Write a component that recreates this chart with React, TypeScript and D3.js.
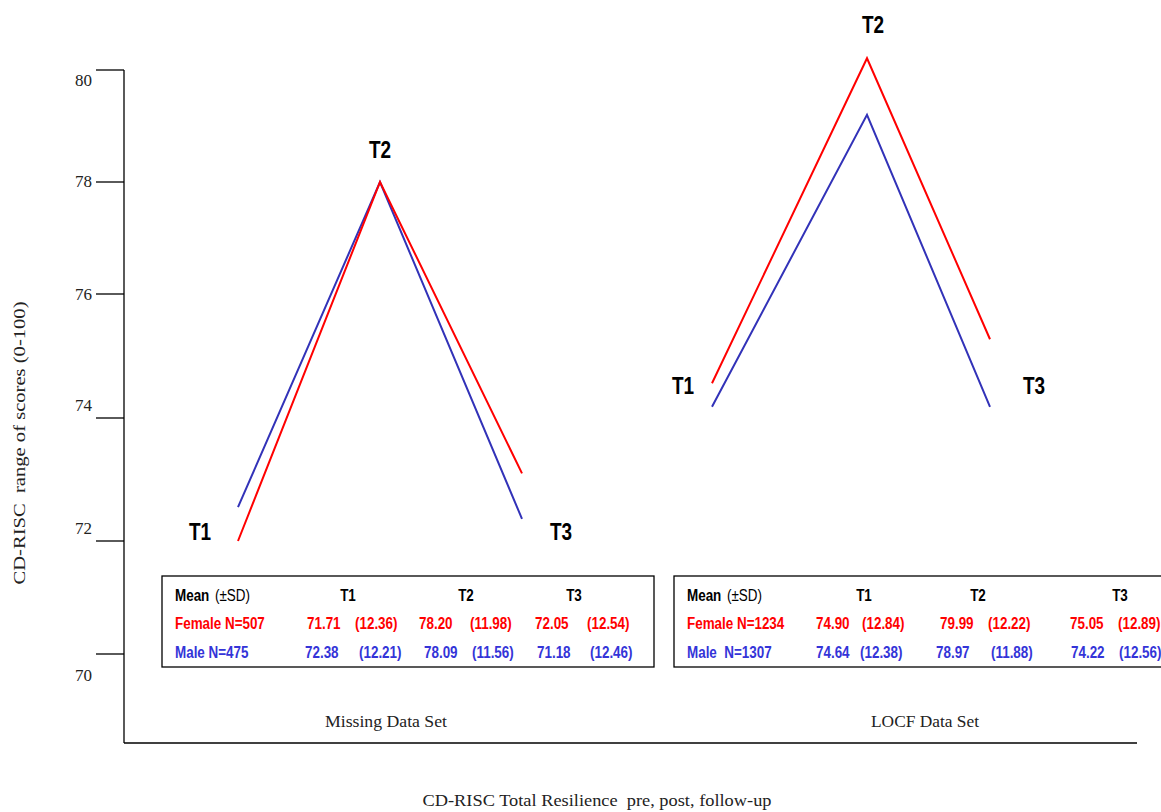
import React from "react";
import * as d3 from "d3";

const times = ["T1", "T2", "T3"];
const yTicks = [70, 72, 74, 76, 78, 80];
const missingFemale = [72.0, 78.0, 73.1];
const missingMale = [72.55, 78.0, 72.36];
const locfFemale = [74.56, 80.21, 75.27];
const locfMale = [74.18, 79.2, 74.18];
// table values
const missingFemaleMean = ["71.71", "78.20", "72.05"];
const missingFemaleSD = ["(12.36)", "(11.98)", "(12.54)"];
const missingMaleMean = ["72.38", "78.09", "71.18"];
const missingMaleSD = ["(12.21)", "(11.56)", "(12.46)"];
const locfFemaleMean = ["74.90", "79.99", "75.05"];
const locfFemaleSD = ["(12.84)", "(12.22)", "(12.89)"];
const locfMaleMean = ["74.64", "78.97", "74.22"];
const locfMaleSD = ["(12.38)", "(11.88)", "(12.56)"];
const missingFemaleLabel = "Female N=507";
const missingMaleLabel = "Male N=475";
const locfFemaleLabel = "Female N=1234";
const locfMaleLabel = "Male  N=1307";

const RED = "#ff0000";
const BLUE_LINE = "#3232b8";
const BLUE_TEXT = "#3434d8";
const SERIF = "'Liberation Serif', 'Times New Roman', serif";
const SANS = "'Liberation Sans', Arial, sans-serif";
const NARROW_K = 0.79;

const y = d3.scaleLinear().domain(yTicks).range([654, 541, 418, 294, 182, 70]);
const tickLabelDy = [23, -11, -11, 2, 1, 12];

const xMissing = d3.scaleOrdinal<string, number>().domain(times).range([238, 380, 522]);
const xLocf = d3.scaleOrdinal<string, number>().domain(times).range([712, 867, 990]);

function linePath(xs: (t: string) => number, vals: number[]) {
  const gen = d3
    .line<number>()
    .x((_, i) => xs(times[i]))
    .y((v) => y(v));
  return gen(vals) || "";
}

function NText(props: {
  x: number;
  y: number;
  fill: string;
  children: React.ReactNode;
  anchor?: string;
  weight?: string;
  size?: number;
}) {
  return (
    <text
      transform={`translate(${props.x},${props.y}) scale(${NARROW_K},1)`}
      fill={props.fill}
      textAnchor={props.anchor || "start"}
      fontWeight={props.weight || "bold"}
      fontSize={props.size || 17}
      fontFamily={SANS}
      style={{ whiteSpace: "pre" }}
    >
      {props.children}
    </text>
  );
}

type TableProps = {
  box: [number, number, number, number];
  headerX: number[];
  meanX: number[];
  sdX: number[];
  maleMeanX: number[];
  maleSdX: number[];
  femaleLabel: string;
  maleLabel: string;
  fMean: string[];
  fSD: string[];
  mMean: string[];
  mSD: string[];
  pmX: number;
};

function Table(p: TableProps) {
  const [bx, by, bw, bh] = p.box;
  const left = bx + 13;
  const rows = [by + 25, by + 53, by + 82];
  return (
    <g>
      <rect x={bx} y={by} width={bw} height={bh} fill="white" stroke="black" strokeWidth={1.3} />
      <NText x={left} y={rows[0]} fill="black">Mean</NText>
      <NText x={p.pmX} y={rows[0]} fill="black" weight="normal">(±SD)</NText>
      {times.map((t, i) => (
        <NText key={t} x={p.headerX[i]} y={rows[0]} anchor="middle" fill="black">{t}</NText>
      ))}
      <NText x={left} y={rows[1]} fill={RED}>{p.femaleLabel}</NText>
      {p.fMean.map((v, i) => (
        <NText key={"fm" + i} x={p.meanX[i]} y={rows[1]} fill={RED}>{v}</NText>
      ))}
      {p.fSD.map((v, i) => (
        <NText key={"fs" + i} x={p.sdX[i]} y={rows[1]} fill={RED}>{v}</NText>
      ))}
      <NText x={left} y={rows[2]} fill={BLUE_TEXT}>{p.maleLabel}</NText>
      {p.mMean.map((v, i) => (
        <NText key={"mm" + i} x={p.maleMeanX[i]} y={rows[2]} fill={BLUE_TEXT}>{v}</NText>
      ))}
      {p.mSD.map((v, i) => (
        <NText key={"ms" + i} x={p.maleSdX[i]} y={rows[2]} fill={BLUE_TEXT}>{v}</NText>
      ))}
    </g>
  );
}

export default function App() {
  const axisX = 124;
  const axisBottom = 743;
  return (
    <svg
      width={1161}
      height={812}
      style={{ position: "absolute", left: 0, top: 0, background: "white" }}
    >
      <rect x={0} y={0} width={1161} height={812} fill="white" />
      {/* y axis */}
      <line x1={axisX} x2={axisX} y1={y(80)} y2={axisBottom} stroke="black" strokeWidth={1.3} />
      <line x1={axisX} x2={1137} y1={axisBottom} y2={axisBottom} stroke="black" strokeWidth={1.3} />
      {yTicks.map((t, i) => (
        <g key={t}>
          <line x1={96} x2={axisX} y1={y(t)} y2={y(t)} stroke="black" strokeWidth={1.3} />
          <text
            x={92}
            y={y(t) + tickLabelDy[i]}
            textAnchor="end"
            dominantBaseline="middle"
            fontFamily={SERIF}
            fontSize={17}
            fill="#222"
          >
            {t}
          </text>
        </g>
      ))}
      <text
        transform="translate(25,443) rotate(-90)"
        textAnchor="middle"
        fontFamily={SERIF}
        fontSize={17}
        fill="#222"
        textLength={283}
        lengthAdjust="spacingAndGlyphs"
        style={{ whiteSpace: "pre" }}
      >
        CD-RISC  range of scores (0-100)
      </text>

      {/* Missing data set lines */}
      <path d={linePath(xMissing, missingMale)} fill="none" stroke={BLUE_LINE} strokeWidth={2} />
      <path d={linePath(xMissing, missingFemale)} fill="none" stroke={RED} strokeWidth={2} />
      {/* LOCF lines */}
      <path d={linePath(xLocf, locfFemale)} fill="none" stroke={RED} strokeWidth={2} />
      <path d={linePath(xLocf, locfMale)} fill="none" stroke={BLUE_LINE} strokeWidth={2} />

      {/* time labels */}
      <NText x={xMissing("T1") - 38} y={540} fill="black" anchor="middle" size={24}>T1</NText>
      <NText x={xMissing("T2")} y={158} fill="black" anchor="middle" size={24}>T2</NText>
      <NText x={xMissing("T3") + 39} y={540} fill="black" anchor="middle" size={24}>T3</NText>
      <NText x={xLocf("T1") - 29} y={394} fill="black" anchor="middle" size={24}>T1</NText>
      <NText x={xLocf("T2") + 6} y={33} fill="black" anchor="middle" size={24}>T2</NText>
      <NText x={xLocf("T3") + 44} y={394} fill="black" anchor="middle" size={24}>T3</NText>

      <Table
        box={[162, 576, 492, 91]}
        pmX={215}
        headerX={[348, 466, 574]}
        meanX={[307, 419, 535]}
        sdX={[355, 470, 587]}
        maleMeanX={[305, 424, 537]}
        maleSdX={[359, 472, 590]}
        femaleLabel={missingFemaleLabel}
        maleLabel={missingMaleLabel}
        fMean={missingFemaleMean}
        fSD={missingFemaleSD}
        mMean={missingMaleMean}
        mSD={missingMaleSD}
      />
      <Table
        box={[674, 576, 500, 91]}
        pmX={727}
        headerX={[864, 978, 1120]}
        meanX={[816, 940, 1070]}
        sdX={[862, 988, 1118]}
        maleMeanX={[816, 936, 1071]}
        maleSdX={[860, 991, 1119]}
        femaleLabel={locfFemaleLabel}
        maleLabel={locfMaleLabel}
        fMean={locfFemaleMean}
        fSD={locfFemaleSD}
        mMean={locfMaleMean}
        mSD={locfMaleSD}
      />

      {/* panel captions */}
      <g fontFamily={SERIF} fontSize={17} fill="#222" textAnchor="middle">
        <text x={386} y={727} textLength={122} lengthAdjust="spacingAndGlyphs">Missing Data Set</text>
        <text x={925} y={727} textLength={108} lengthAdjust="spacingAndGlyphs">LOCF Data Set</text>
        <text x={597} y={806} textLength={349} lengthAdjust="spacingAndGlyphs" style={{ whiteSpace: "pre" }}>
          CD-RISC Total Resilience  pre, post, follow-up
        </text>
      </g>
    </svg>
  );
}
